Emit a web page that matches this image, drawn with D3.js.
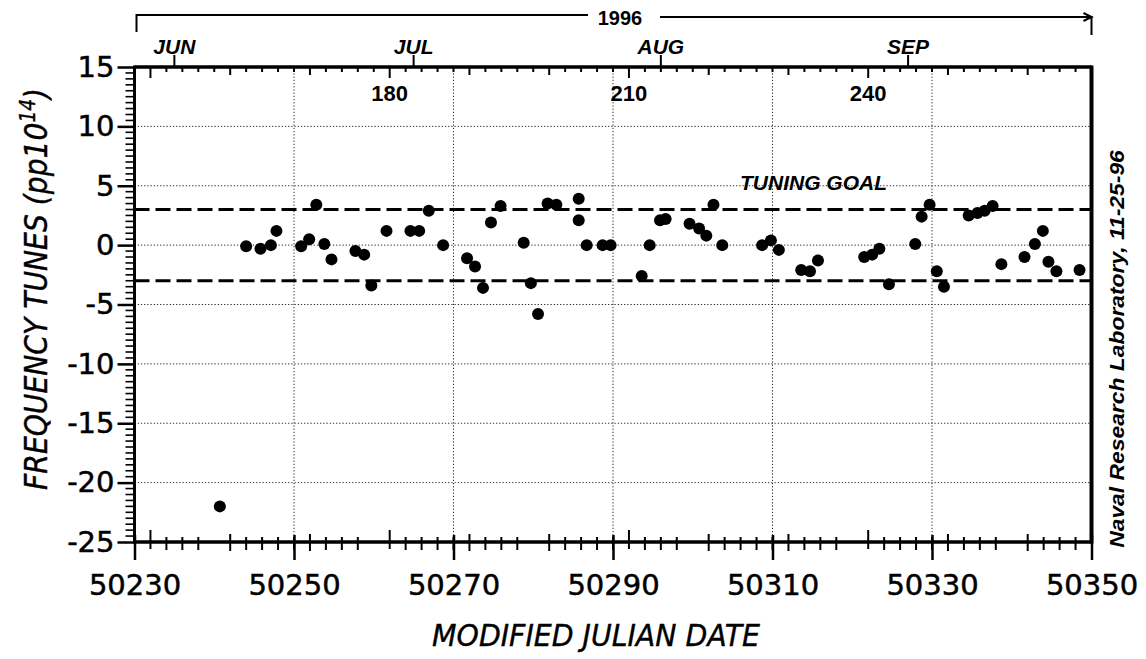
<!DOCTYPE html>
<html><head><meta charset="utf-8">
<script src="https://cdn.jsdelivr.net/npm/d3@7"></script>
<style>
html,body{margin:0;padding:0;background:#fff;}
svg{display:block;}
</style>
</head><body>
<svg id="chart" width="1146" height="659"></svg>
<script>
// ---- data ----
const mjd = [50240.7, 50244.0, 50245.8, 50247.1, 50247.8, 50250.9, 50251.9, 50252.8, 50253.8, 50254.7,
  50257.7, 50258.8, 50259.7, 50261.6, 50264.6, 50265.7, 50266.9, 50268.7, 50271.7, 50272.7,
  50273.7, 50274.7, 50275.9, 50278.8, 50279.7, 50280.6, 50281.8, 50282.9, 50285.7, 50285.7,
  50286.7, 50288.7, 50289.7, 50293.6, 50294.6, 50295.9, 50296.6, 50299.6, 50300.8, 50301.7,
  50302.6, 50303.7, 50308.7, 50309.8, 50310.8, 50313.6, 50314.7, 50315.7, 50321.5, 50322.5,
  50323.4, 50324.6, 50327.9, 50328.7, 50329.7, 50330.6, 50331.5, 50334.6, 50335.7, 50336.6,
  50337.6, 50338.7, 50341.6, 50342.9, 50343.9, 50344.6, 50345.6, 50348.5];
const tunes = [-22.0, -0.1, -0.3, 0.0, 1.2, -0.1, 0.5, 3.4, 0.1, -1.2,
  -0.5, -0.8, -3.4, 1.2, 1.2, 1.2, 2.9, 0.0, -1.1, -1.8,
  -3.6, 1.9, 3.3, 0.2, -3.2, -5.8, 3.5, 3.4, 3.9, 2.1,
  0.0, 0.0, 0.0, -2.6, 0.0, 2.1, 2.2, 1.8, 1.4, 0.8,
  3.4, 0.0, 0.0, 0.4, -0.4, -2.1, -2.2, -1.3, -1.0, -0.8,
  -0.3, -3.3, 0.1, 2.4, 3.4, -2.2, -3.5, 2.5, 2.7, 2.9,
  3.3, -1.6, -1.0, 0.1, 1.2, -1.4, -2.2, -2.1];
const xTicks = [50230, 50250, 50270, 50290, 50310, 50330, 50350];
const yTicks = [15, 10, 5, 0, -5, -10, -15, -20, -25];
const goalLevels = [3, -3];
const doyLabels = [180, 210, 240];
const months = ["JUN", "JUL", "AUG", "SEP"];
const monthStartMJD = [50235, 50265, 50296, 50327];
const yearLabel = "1996";
const doyOrigin = 50082; // MJD of day 0 of 1996 (Jan 1 = day 1 = MJD 50083)

// ---- scales ----
const svg = d3.select("#chart");
const x = d3.scaleLinear().domain([50230, 50350]).range([134.5, 1091.5]);
const y = d3.scaleLinear().domain([-25, 15]).range([542, 67]);
const X0 = x.range()[0], X1 = x.range()[1], Y0 = y.range()[0], Y1 = y.range()[1];
const mjdFromDoy = d => d + doyOrigin;
const numFont = "'DejaVu Sans', sans-serif";
const boldFont = "'Liberation Sans', Arial, sans-serif";

// ---- grid ----
const grid = svg.append("g").attr("stroke", "#222").attr("stroke-width", 1).attr("stroke-dasharray", "1.2,2");
grid.selectAll("line.v").data(xTicks.slice(1, -1)).join("line")
  .attr("x1", d => x(d)).attr("x2", d => x(d)).attr("y1", Y1).attr("y2", Y0);
grid.selectAll("line.h").data(yTicks.slice(1, -1)).join("line")
  .attr("x1", X0).attr("x2", X1).attr("y1", d => y(d)).attr("y2", d => y(d));

// ---- tuning goal lines ----
svg.append("g").selectAll("line").data(goalLevels).join("line")
  .attr("x1", X0).attr("x2", X1).attr("y1", d => y(d)).attr("y2", d => y(d))
  .attr("stroke", "#000").attr("stroke-width", 3).attr("stroke-dasharray", "15,6");
svg.append("text").attr("x", 740).attr("y", y(3) - 20)
  .attr("font-family", boldFont).attr("font-weight", "bold").attr("font-style", "italic")
  .attr("font-size", 21).text("TUNING GOAL");

// ---- bottom axis ----
const bottom = svg.append("g").attr("transform", `translate(0,${Y0})`)
  .call(d3.axisBottom(x).tickValues(xTicks).tickSize(18).tickPadding(14).tickSizeOuter(0).tickFormat(d3.format("d")));
bottom.select(".domain").remove();
bottom.selectAll(".tick line").attr("y1", -7).attr("stroke-width", 2.5);
bottom.selectAll(".tick text").attr("font-family", numFont).attr("font-size", 29).attr("fill", "#000")
  .attr("stroke", "#000").attr("stroke-width", 0.5);
const evenDays = d3.range(50232, 50350, 2).filter(d => d % 20 !== 0);
function tickLen(d) {
  const doy = d - doyOrigin;
  if (doy % 30 === 0) return [12, 7];
  if (doy % 10 === 0) return [8, 9];
  return [5, 8];
}
svg.append("g").selectAll("line").data(evenDays).join("line")
  .attr("x1", d => x(d)).attr("x2", d => x(d))
  .attr("y1", d => Y0 - tickLen(d)[0]).attr("y2", d => Y0 + tickLen(d)[1])
  .attr("stroke", "#000").attr("stroke-width", 2);

// ---- top axis (day of year) ----
const topTicks = d3.range(50232, 50350, 2);
svg.append("g").selectAll("line").data(topTicks).join("line")
  .attr("x1", d => x(d)).attr("x2", d => x(d)).attr("y1", Y1)
  .attr("y2", d => { const doy = d - doyOrigin; return Y1 + (doy % 30 === 0 ? 11 : doy % 10 === 0 ? 8 : 5); })
  .attr("stroke", "#000").attr("stroke-width", 2);
svg.append("g").selectAll("text").data(doyLabels).join("text")
  .attr("x", d => x(mjdFromDoy(d))).attr("y", Y1 + 34).attr("text-anchor", "middle")
  .attr("font-family", boldFont).attr("font-weight", "bold").attr("font-size", 22).text(d => d);
// month ticks and labels
svg.append("g").selectAll("line").data(monthStartMJD).join("line")
  .attr("x1", d => x(d)).attr("x2", d => x(d)).attr("y1", Y1).attr("y2", Y1 - 12)
  .attr("stroke", "#000").attr("stroke-width", 2);
svg.append("g").selectAll("text").data(months).join("text")
  .attr("x", (d, i) => x(monthStartMJD[i])).attr("y", Y1 - 13).attr("text-anchor", "middle")
  .attr("font-family", boldFont).attr("font-weight", "bold").attr("font-style", "italic")
  .attr("font-size", 21).text(d => d);

// year bracket
const yr = svg.append("g").attr("stroke", "#000").attr("stroke-width", 2).attr("fill", "none");
yr.append("path").attr("d", `M${x(50230) + 2},${32} V15 H${588}`);
yr.append("path").attr("d", `M${660},17 H${x(50350)} V35`);
yr.append("path").attr("d", `M${x(50350) - 8},13 L${x(50350)},17 L${x(50350) - 8},21`);
svg.append("text").attr("x", 620).attr("y", 25).attr("text-anchor", "middle")
  .attr("font-family", boldFont).attr("font-weight", "bold").attr("font-size", 20).text(yearLabel);

// ---- left axis ----
const left = svg.append("g").attr("transform", `translate(${X0},0)`)
  .call(d3.axisLeft(y).tickValues(yTicks).tickSize(17).tickPadding(3).tickSizeOuter(0)
    .tickFormat(d => (d < 0 ? "-" + Math.abs(d) : String(d))));
left.select(".domain").remove();
left.selectAll(".tick line").attr("stroke-width", 2.5);
left.selectAll(".tick text").attr("font-family", numFont).attr("font-size", 29).attr("fill", "#000")
  .attr("stroke", "#000").attr("stroke-width", 0.5);
const halfUnits = d3.range(-25, 15.01, 0.5).filter(d => d % 5 !== 0);
svg.append("g").selectAll("line").data(halfUnits).join("line")
  .attr("x1", X0 - 9).attr("x2", X0).attr("y1", d => y(d)).attr("y2", d => y(d))
  .attr("stroke", "#000").attr("stroke-width", 1.6);

// ---- frame ----
const frame = svg.append("g").attr("stroke", "#000");
frame.append("line").attr("x1", X0).attr("x2", X1).attr("y1", Y0).attr("y2", Y0).attr("stroke-width", 3.5);
frame.append("line").attr("x1", X0).attr("x2", X1).attr("y1", Y1).attr("y2", Y1).attr("stroke-width", 3.5);
frame.append("line").attr("x1", X0).attr("x2", X0).attr("y1", Y1 - 1.5).attr("y2", Y0 + 1.5).attr("stroke-width", 3);
frame.append("line").attr("x1", X1).attr("x2", X1).attr("y1", Y1 - 1.5).attr("y2", Y0 + 1.5).attr("stroke-width", 4);

// ---- points ----
svg.append("g").selectAll("circle").data(mjd).join("circle")
  .attr("cx", d => x(d)).attr("cy", (d, i) => y(tunes[i])).attr("r", 6).attr("fill", "#000");

// ---- titles ----
function fitText(g, text, target) {
  const w = text.node().getComputedTextLength();
  text.attr("transform", `scale(${target / w},1)`);
}
const xt = svg.append("g").attr("transform", `translate(${(X0 + X1) / 2 - 17},646)`);
const xtt = xt.append("text").attr("text-anchor", "middle").attr("font-family", numFont)
  .attr("font-style", "italic").attr("font-size", 31).attr("stroke", "#000").attr("stroke-width", 0.4)
  .text("MODIFIED JULIAN DATE");
fitText(xt, xtt, 328);

const yt = svg.append("g").attr("transform", `translate(47,289) rotate(-90)`);
const ytt = yt.append("text").attr("text-anchor", "middle").attr("font-family", numFont)
  .attr("font-style", "italic").attr("font-size", 32).attr("stroke", "#000").attr("stroke-width", 0.4);
ytt.append("tspan").text("FREQUENCY TUNES (pp10");
ytt.append("tspan").attr("font-size", 21).attr("dy", "-0.55em").text("14");
ytt.append("tspan").attr("dy", "0.35em").text(")");
fitText(yt, ytt, 402);

const rt = svg.append("g").attr("transform", `translate(1124,349) rotate(-90)`);
const rtt = rt.append("text").attr("text-anchor", "middle").attr("font-family", boldFont)
  .attr("font-weight", "bold").attr("font-style", "italic").attr("font-size", 20)
  .text("Naval Research Laboratory, 11-25-96");
fitText(rt, rtt, 398);
</script>
</body></html>
